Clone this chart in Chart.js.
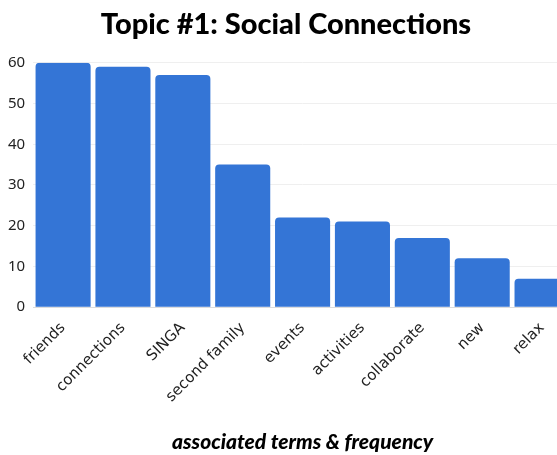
<!DOCTYPE html>
<html>
<head>
<meta charset="utf-8">
<script src="https://cdn.jsdelivr.net/npm/chart.js@4"></script>
<style>
html,body{margin:0;padding:0;background:#fff;overflow:hidden;}
#wrap{width:572px;height:455px;position:relative;}
</style>
</head>
<body>
<div id="wrap"><canvas id="c"></canvas></div>
<script>
const categories = ["friends","connections","SINGA","second family","events","activities","collaborate","new","relax"];
const frequency = [60, 59, 57, 35, 22, 21, 17, 12, 7];
const yTicks = [0, 10, 20, 30, 40, 50, 60];

new Chart(document.getElementById('c'), {
  type: 'bar',
  data: {
    labels: categories,
    datasets: [{
      data: frequency,
      backgroundColor: '#3475d6',
      borderRadius: 4,
      borderSkipped: 'bottom',
      barPercentage: 0.92,
      categoryPercentage: 1.0
    }]
  },
  options: {
    responsive: true,
    maintainAspectRatio: false,
    animation: false,
    layout: { padding: { left: 0, right: 0, top: 2, bottom: 0 } },
    plugins: {
      legend: { display: false },
      tooltip: { enabled: false },
      title: {
        display: true,
        text: 'Topic #1: Social Connections',
        color: '#000',
        font: { family: 'Lato', size: 29, weight: '900' },
        padding: { top: 5, bottom: 21 }
      }
    },
    scales: {
      x: {
        grid: { display: false },
        border: { color: '#dcdcdc' },
        ticks: {
          color: '#222',
          font: { family: 'DejaVu Sans', size: 15 },
          maxRotation: 45, minRotation: 45,
          autoSkip: false,
          padding: 4
        },
        title: {
          display: true,
          text: 'associated terms & frequency',
          color: '#000',
          font: { family: 'Lato', size: 21, weight: '900', style: 'italic' },
          padding: { top: 20, bottom: 0 }
        }
      },
      y: {
        min: 0, max: 60,
        afterBuildTicks: (axis) => { axis.ticks = yTicks.map(v => ({ value: v })); },
        grid: { color: '#efefef', drawTicks: false },
        border: { display: false },
        ticks: {
          color: '#222',
          font: { family: 'Noto Sans', size: 15 },
          padding: 8
        }
      }
    }
  }
});
</script>
</body>
</html>
